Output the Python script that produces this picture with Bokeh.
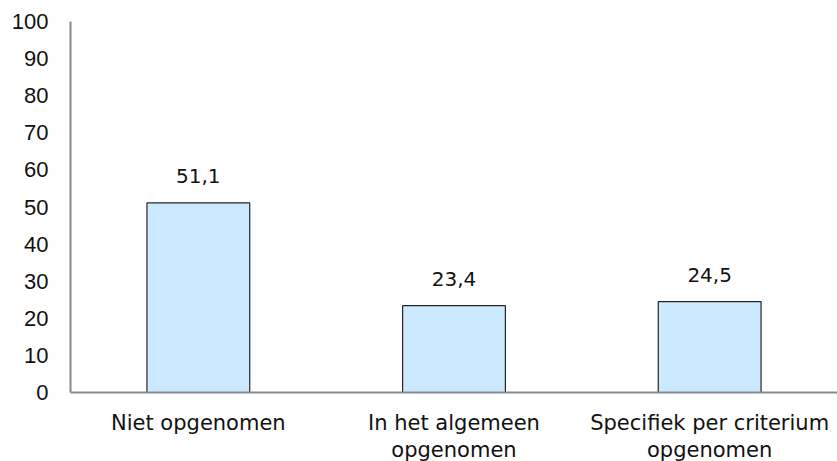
from bokeh.plotting import figure
from bokeh.models import Range1d, FixedTicker, ColumnDataSource, LabelSet, Span
from bokeh.core.properties import value
from bokeh.embed import file_html
from bokeh.resources import INLINE

categories = ["Niet opgenomen", "In het algemeen\nopgenomen", "Specifiek per criterium\nopgenomen"]
values = [51.1, 23.4, 24.5]
value_labels = ["51,1", "23,4", "24,5"]
y_ticks = [0, 10, 20, 30, 40, 50, 60, 70, 80, 90, 100]

xs = [i + 0.5 for i in range(len(categories))]

# frame spans to the bottom of the canvas; value 0 sits 69px above it
p = figure(width=837, height=461, output_backend="svg", toolbar_location=None,
           x_range=Range1d(0, 3), y_range=Range1d(-69 / 3.71, 100),
           min_border_left=70, min_border_right=0, min_border_top=21, min_border_bottom=0)
p.outline_line_color = None
p.xgrid.visible = False
p.ygrid.visible = False
p.xaxis.visible = False

src = ColumnDataSource(dict(x=xs, top=values, lab=value_labels))
p.vbar(x="x", top="top", bottom=0, width=0.402, source=src,
       fill_color="#cceaff", line_color="#262626", line_width=1.2)

p.add_layout(Span(location=0, dimension="width", line_color="#888888", line_width=2))

labels = LabelSet(x="x", y="top", text="lab", source=src, text_align="center",
                  text_baseline="alphabetic", y_offset=20, text_font=value("DejaVu Sans"),
                  text_font_size=value("20px"), text_color="#111111")
p.add_layout(labels)

# category labels, one row per text line
cx, cy, ct, coff = [], [], [], []
for x, c in zip(xs, categories):
    for i, line in enumerate(c.split("\n")):
        cx.append(x)
        cy.append(0)
        ct.append(line)
        coff.append(-30 - 27 * i)
csrc = ColumnDataSource(dict(x=cx, y=cy, t=ct, off=coff))
clabels = LabelSet(x="x", y="y", text="t", source=csrc, text_align="center",
                   text_baseline="middle", y_offset="off", text_font=value("DejaVu Sans"),
                   text_font_size=value("21px"), text_color="#111111")
p.add_layout(clabels)

ya = p.yaxis[0]
ya.bounds = (0, 100)
ya.ticker = FixedTicker(ticks=y_ticks)
ya.major_tick_out = 0
ya.major_tick_in = 0
ya.minor_tick_out = 0
ya.minor_tick_in = 0
ya.axis_line_color = "#888888"
ya.axis_line_width = 2
ya.major_label_standoff = 22
ya.major_label_text_font = "Liberation Sans"
ya.major_label_text_font_size = "22px"
ya.major_label_text_color = "#111111"

open("out.html", "w").write(file_html(p, INLINE))
